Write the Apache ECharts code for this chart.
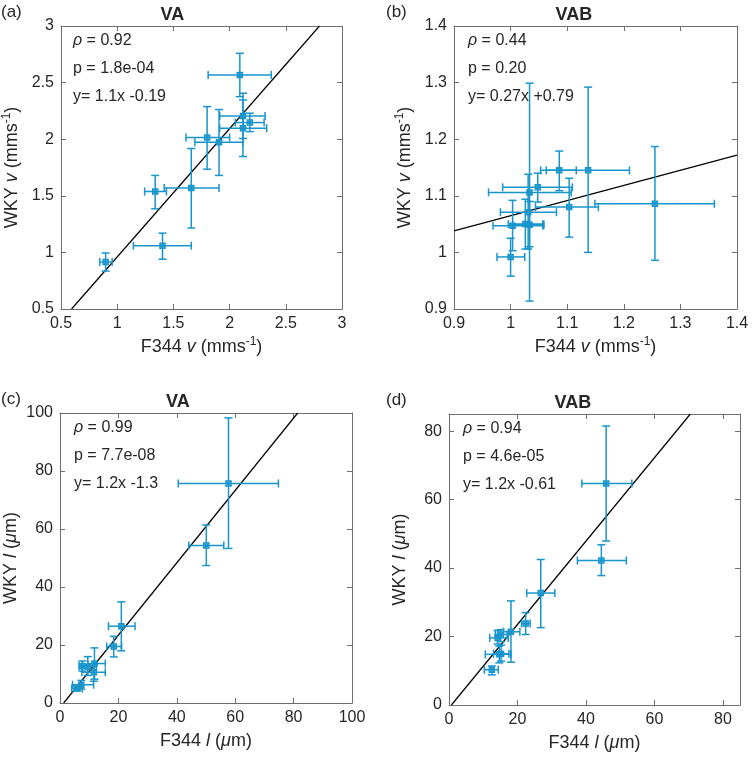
<!DOCTYPE html>
<html>
<head>
<meta charset="utf-8">
<script src="https://cdn.jsdelivr.net/npm/echarts@6/dist/echarts.min.js"></script>
<style>
html,body{margin:0;padding:0;background:#fff;}
#chart{width:753px;height:758px;}
</style>
</head>
<body>
<div id="chart"></div>
<script>
// ---------------- DATA ----------------
// each row: [x, y, xLow, xHigh, yLow, yHigh]
const panelA_points = [
  [0.897, 0.915, 0.845, 0.955, 0.835, 0.995],
  [1.403, 1.059, 1.144, 1.659, 0.940, 1.170],
  [1.338, 1.538, 1.244, 1.438, 1.385, 1.680],
  [1.659, 1.568, 1.418, 1.906, 1.215, 1.918],
  [1.800, 2.015, 1.612, 2.000, 1.735, 2.288],
  [1.906, 1.974, 1.691, 2.118, 1.680, 2.262],
  [2.091, 2.568, 1.809, 2.371, 2.376, 2.759],
  [2.119, 2.206, 1.912, 2.316, 2.006, 2.406],
  [2.180, 2.147, 2.051, 2.307, 2.067, 2.230],
  [2.119, 2.097, 1.912, 2.330, 1.847, 2.347]
];
const panelB_points = [
  [1.000, 0.992, 0.976, 1.025, 0.958, 1.025],
  [1.0035, 1.047, 0.969, 1.057, 1.003, 1.092],
  [1.026, 1.050, 0.996, 1.057, 1.006, 1.094],
  [1.0335, 1.049, 1.004, 1.059, 1.010, 1.090],
  [1.0335, 1.106, 0.961, 1.107, 0.914, 1.299],
  [1.031, 1.071, 0.982, 1.081, 1.006, 1.138],
  [1.048, 1.115, 0.986, 1.109, 1.089, 1.140],
  [1.086, 1.145, 1.053, 1.116, 1.109, 1.179],
  [1.137, 1.145, 1.063, 1.210, 1.000, 1.292],
  [1.1035, 1.080, 1.044, 1.155, 1.027, 1.131],
  [1.255, 1.086, 1.149, 1.360, 0.986, 1.187]
];
const panelC_points = [
  [57.7, 75.7, 40.5, 74.8, 53.3, 98.3],
  [50.1, 54.3, 44.1, 56.1, 47.4, 61.4],
  [21.0, 26.5, 16.6, 25.7, 18.0, 34.9],
  [18.4, 19.5, 16.0, 21.1, 15.9, 23.0],
  [7.7, 12.8, 6.5, 9.5, 11.0, 14.5],
  [9.5, 12.5, 7.5, 12.5, 9.5, 16.0],
  [11.8, 13.6, 9.5, 15.5, 8.2, 19.0],
  [11.6, 10.6, 7.5, 15.5, 7.5, 13.5],
  [7.3, 6.3, 4.3, 11.5, 4.8, 7.8],
  [5.8, 5.0, 4.0, 7.6, 4.2, 5.8]
];
const panelD_points = [
  [45.9, 64.7, 38.8, 53.4, 47.9, 81.5],
  [44.5, 42.2, 37.5, 51.8, 37.8, 46.8],
  [26.8, 32.7, 22.7, 30.9, 22.6, 42.5],
  [22.4, 23.8, 21.2, 23.7, 20.6, 27.0],
  [18.1, 21.4, 15.9, 20.7, 12.5, 30.4],
  [14.2, 19.6, 11.9, 17.3, 17.8, 21.8],
  [15.1, 20.6, 13.5, 17.0, 18.5, 22.0],
  [14.7, 14.8, 10.6, 18.1, 12.3, 17.2],
  [15.2, 15.0, 13.0, 17.5, 12.8, 17.5],
  [12.5, 10.3, 10.3, 14.4, 8.8, 11.4]
];
// fitted regression lines (end points as drawn)
const panelA_fit = [[0.594, 0.5], [2.80, 3.0]];
const panelB_fit = [[0.90, 1.038], [1.40, 1.172]];
const panelC_fit = [[1.25, 0], [81.4, 100]];
const panelD_fit = [[0.7, 0], [70.5, 85]];
// statistics text
const panelA_stats = ['0.92', '1.8e-04', '1.1x -0.19'];
const panelB_stats = ['0.44', '0.20', '0.27x +0.79'];
const panelC_stats = ['0.99', '7.7e-08', '1.2x -1.3'];
const panelD_stats = ['0.94', '4.6e-05', '1.2x -0.61'];
// axis ranges [min, max, interval]
const panelA_range = [0.5, 3, 0.5];
const panelB_range = [0.9, 1.4, 0.1];
const panelC_range = [0, 100, 20];
const panelD_range = [0, 85, 20];
const titles = ['VA', 'VAB', 'VA', 'VAB'];
const letters = ['(a)', '(b)', '(c)', '(d)'];

// ---------------- LAYOUT / STYLE ----------------
const COLOR = '#1895cc';
const AXIS_COLOR = '#6e6e6e';
const TEXT_COLOR = '#262626';
const FONT = '"Liberation Sans", Arial, Helvetica, sans-serif';
const grids = [
  {left: 59, top: 26, width: 283, height: 283},
  {left: 454, top: 26, width: 283, height: 283},
  {left: 60, top: 413, width: 292, height: 290},
  {left: 449, top: 414, width: 291, height: 291}
];
const panels = [
  {pts: panelA_points, fit: panelA_fit, stats: panelA_stats, range: panelA_range, sym: 'v', unit: 'mms', sup: '-1'},
  {pts: panelB_points, fit: panelB_fit, stats: panelB_stats, range: panelB_range, sym: 'v', unit: 'mms', sup: '-1'},
  {pts: panelC_points, fit: panelC_fit, stats: panelC_stats, range: panelC_range, sym: 'l', unit: 'm', mu: true},
  {pts: panelD_points, fit: panelD_fit, stats: panelD_stats, range: panelD_range, sym: 'l', unit: 'm', mu: true}
];

const rich = {
  n: {fontSize: 18, fontFamily: FONT, color: TEXT_COLOR, lineHeight: 22},
  i: {fontSize: 18, fontFamily: FONT, color: TEXT_COLOR, fontStyle: 'italic', lineHeight: 22},
  s: {fontSize: 12, fontFamily: FONT, color: TEXT_COLOR, verticalAlign: 'top', lineHeight: 22, padding: [0, 0, 8, 0]}
};
function axisName(prefix, p) {
  if (p.mu) return '{n|' + prefix + ' }{i|' + p.sym + '}{n| (}{i|μ}{n|' + p.unit + ')}';
  return '{n|' + prefix + ' }{i|' + p.sym + '}{n| (' + p.unit + '}{s|' + p.sup + '}{n|)}';
}

function errRender(params, api) {
  const x = api.value(0), y = api.value(1);
  const c = api.coord([x, y]);
  const l = api.coord([api.value(2), y]);
  const r = api.coord([api.value(3), y]);
  const b = api.coord([x, api.value(4)]);
  const t = api.coord([x, api.value(5)]);
  const cap = 4, m = 2.6;
  const st = {stroke: COLOR, lineWidth: 1.5, fill: null};
  const ln = (x1, y1, x2, y2, w) => ({type: 'line', shape: {x1, y1, x2, y2}, style: Object.assign({}, st, w ? {lineWidth: w} : {})});
  return {type: 'group', children: [
    ln(l[0], c[1], r[0], c[1]),
    ln(c[0], b[1], c[0], t[1]),
    ln(l[0], c[1] - cap, l[0], c[1] + cap),
    ln(r[0], c[1] - cap, r[0], c[1] + cap),
    ln(c[0] - cap, b[1], c[0] + cap, b[1]),
    ln(c[0] - cap, t[1], c[0] + cap, t[1]),
    {type: 'rect', shape: {x: c[0] - m, y: c[1] - m, width: 2 * m, height: 2 * m}, style: {stroke: COLOR, lineWidth: 1.3, fill: 'rgba(24,149,204,0.35)'}},
    ln(c[0] - m, c[1] - m, c[0] + m, c[1] + m, 1.1),
    ln(c[0] - m, c[1] + m, c[0] + m, c[1] - m, 1.1)
  ]};
}

const option = {
  backgroundColor: '#fff',
  animation: false,
  grid: grids.map(g => Object.assign({containLabel: false}, g)),
  xAxis: [], yAxis: [], series: [], graphic: []
};

panels.forEach((p, i) => {
  const [mn, mx, iv] = p.range;
  const g = grids[i];
  const steps = (mx - mn) / iv;
  const offGrid = Math.abs(steps - Math.round(steps)) > 1e-6;
  const lab = {color: TEXT_COLOR, fontSize: 16, fontFamily: FONT, margin: 7,
    formatter: v => (offGrid && Math.abs(v - mx) < 1e-9) ? '' : String(+v.toFixed(3))};
  const common = {type: 'value', gridIndex: i, min: mn, max: mx, interval: iv,
    axisLine: {show: true, onZero: false, lineStyle: {color: AXIS_COLOR, width: 1}},
    axisTick: {show: true, inside: true, length: 5, lineStyle: {color: AXIS_COLOR}},
    splitLine: {show: false}};
  option.xAxis.push(Object.assign({}, common, {position: 'bottom', axisLabel: lab,
    name: axisName('F344', p), nameLocation: 'middle', nameGap: 27,
    nameTextStyle: {rich: rich, verticalAlign: 'top'}}));
  option.xAxis.push(Object.assign({}, common, {position: 'top', axisLabel: {show: false}}));
  option.yAxis.push(Object.assign({}, common, {position: 'left', axisLabel: lab,
    name: axisName('WKY', p), nameLocation: 'middle', nameGap: 38,
    nameTextStyle: {rich: rich}}));
  option.yAxis.push(Object.assign({}, common, {position: 'right', axisLabel: {show: false}}));

  option.series.push({
    type: 'line', xAxisIndex: 2 * i, yAxisIndex: 2 * i, data: p.fit,
    symbol: 'none', lineStyle: {color: '#000', width: 1.2}, clip: true, z: 2
  });
  option.series.push({
    type: 'custom', xAxisIndex: 2 * i, yAxisIndex: 2 * i, data: p.pts,
    renderItem: errRender, encode: {x: 0, y: 1}, clip: false, z: 3
  });

  option.graphic.push({type: 'text', left: g.left + g.width / 2 - 40, top: g.top - 20,
    style: {text: titles[i], width: 80, align: 'center', font: 'bold 18px ' + FONT, fill: TEXT_COLOR}});
  option.graphic.push({type: 'text', left: (i % 2 === 0 ? 1 : 386), top: g.top - 22,
    style: {text: letters[i], font: '17px ' + FONT, fill: TEXT_COLOR}});
  const lines = [
    '{i|ρ}{n| = ' + p.stats[0] + '}',
    '{n|p = ' + p.stats[1] + '}',
    '{n|y= ' + p.stats[2] + '}'
  ];
  lines.forEach((t, k) => {
    option.graphic.push({type: 'text', left: g.left + 14, top: g.top + 7 + k * 28, z: 10,
      style: {text: t, rich: {
        n: {fontSize: 16, fontFamily: FONT, fill: TEXT_COLOR},
        i: {fontSize: 16, fontFamily: FONT, fill: TEXT_COLOR, fontStyle: 'italic'}
      }}});
  });
});

const chart = echarts.init(document.getElementById('chart'), null, {renderer: 'canvas'});
chart.setOption(option);
</script>
</body>
</html>
